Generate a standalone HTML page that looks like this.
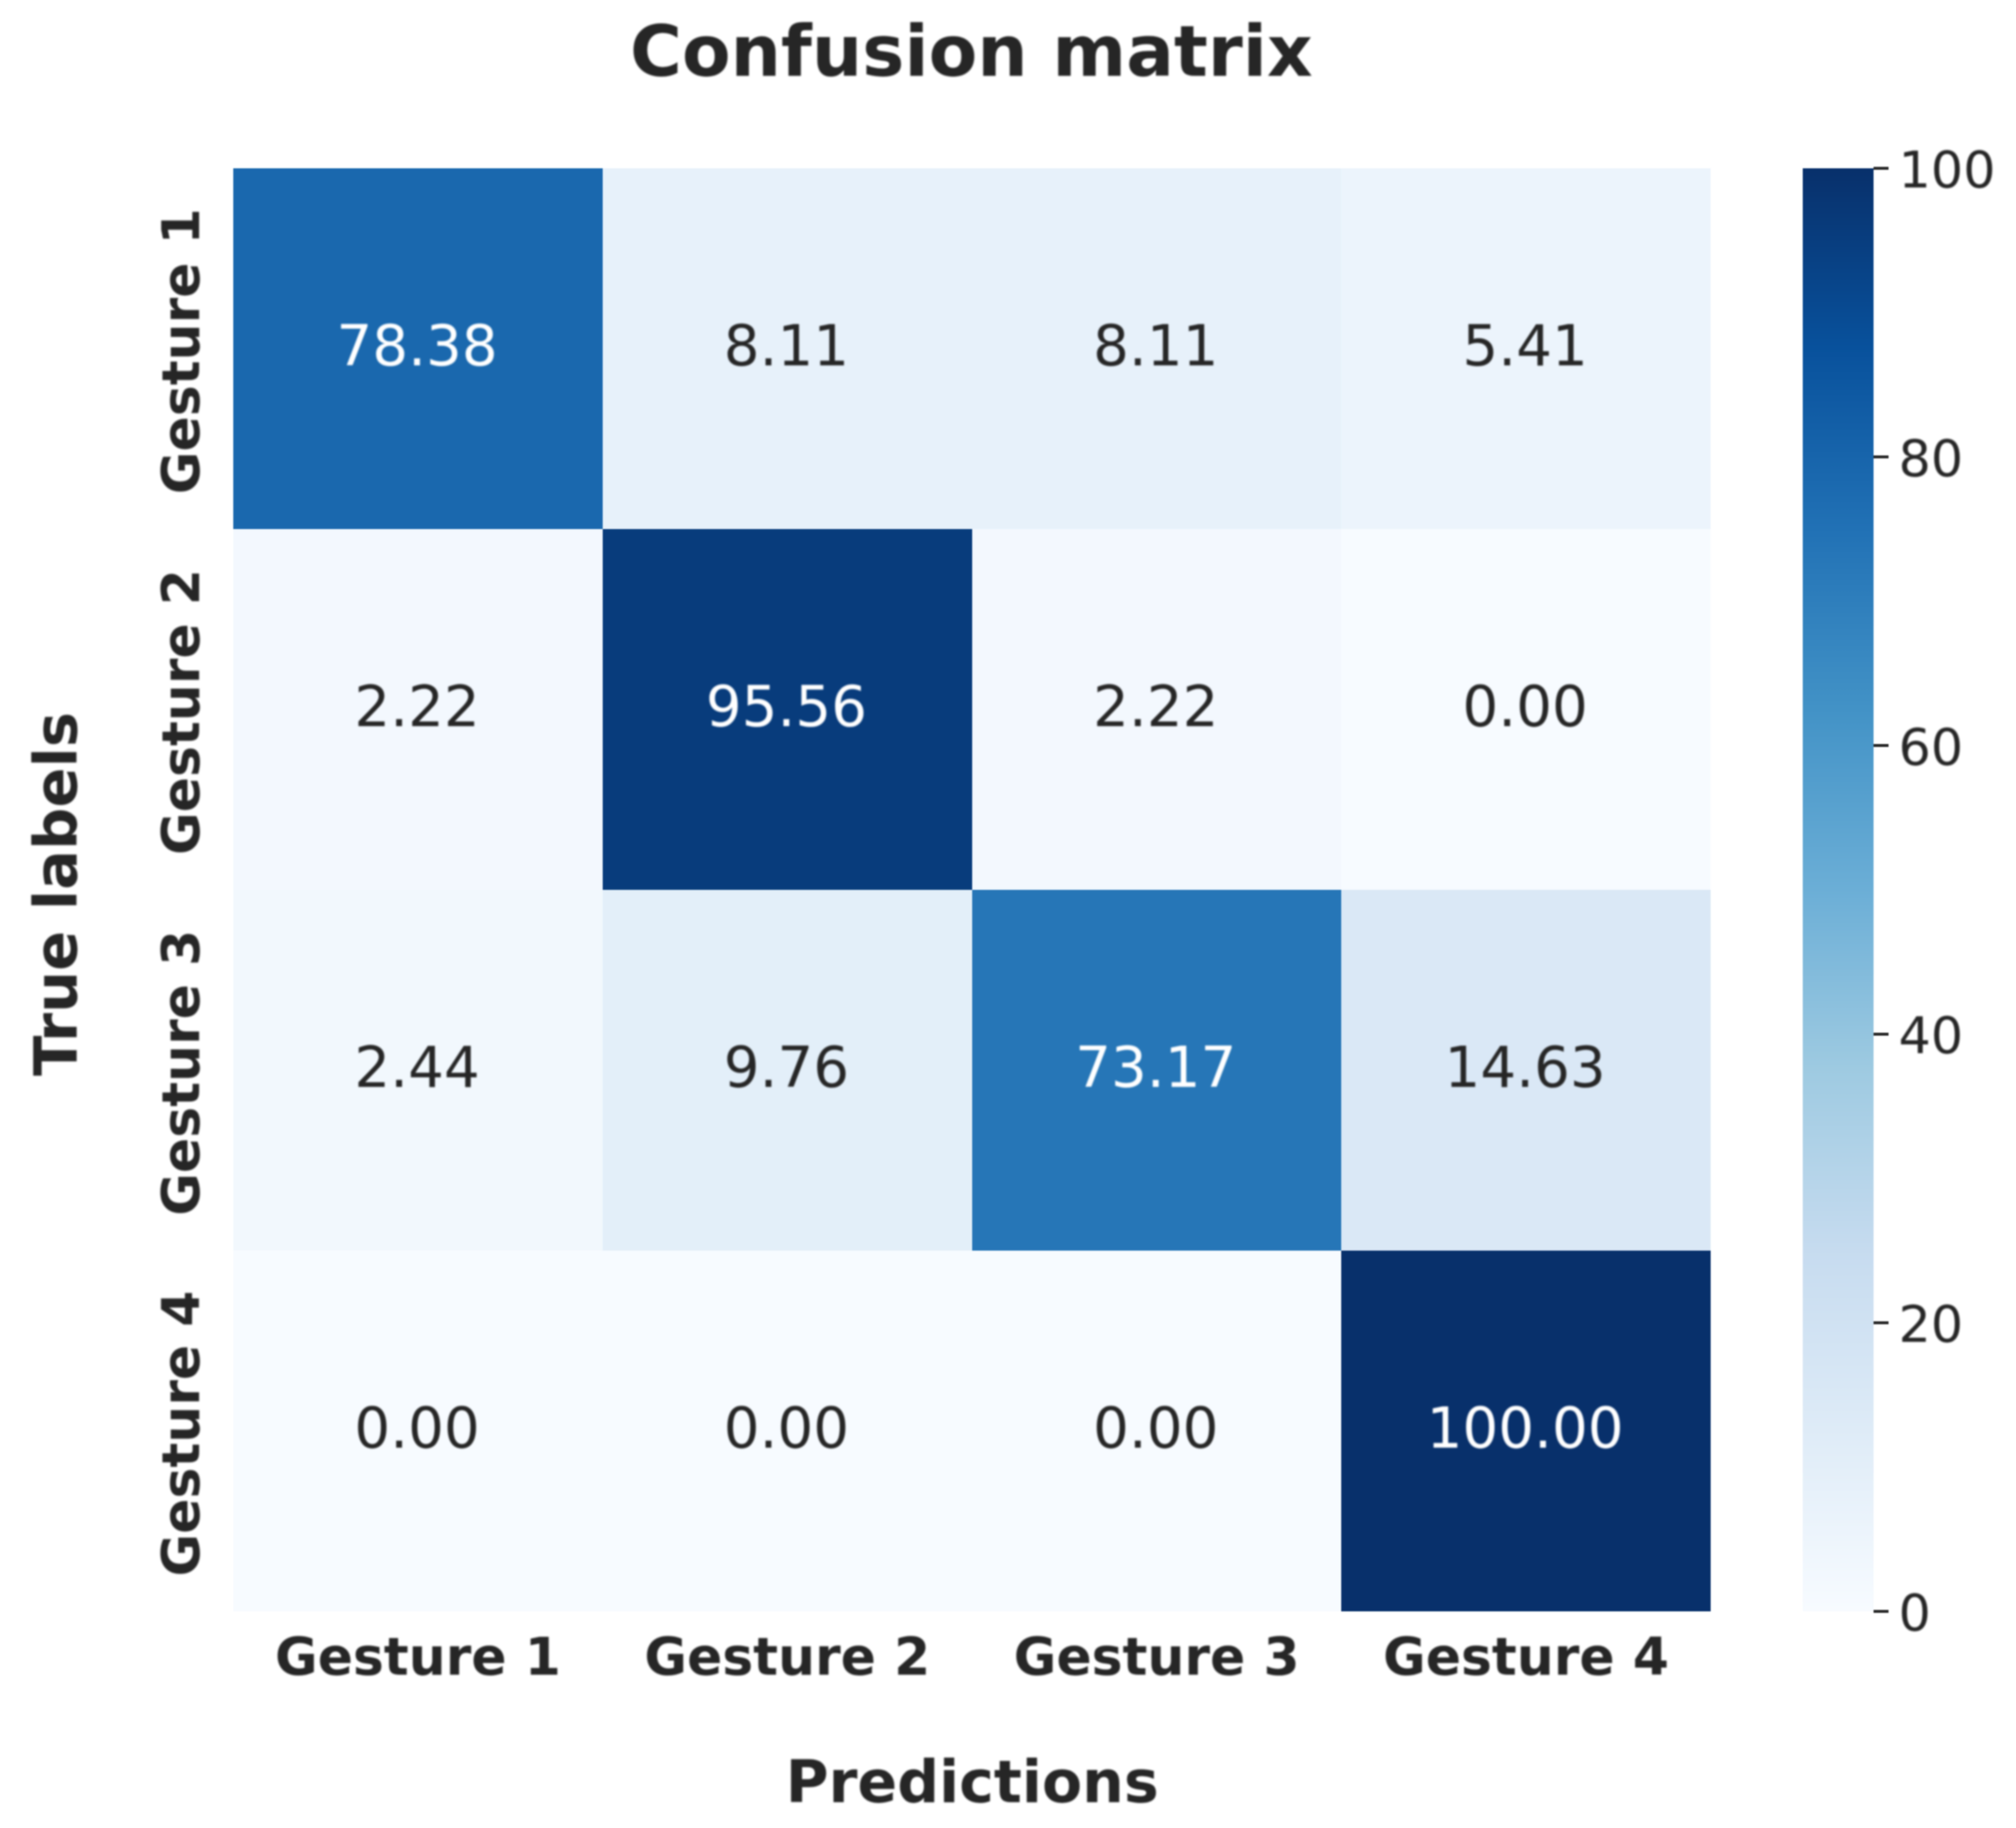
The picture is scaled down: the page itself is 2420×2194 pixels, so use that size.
<!DOCTYPE html>
<html lang="en">
<head>
<meta charset="utf-8">
<title>Confusion matrix</title>
<style>
html,body{margin:0;padding:0;background:#fff;}
svg{display:block;}
text{font-family:"DejaVu Sans","Liberation Sans",sans-serif;fill:#262626;}
.soft{filter:blur(1.1px);}
.edge{filter:blur(0.7px);}
.b{font-weight:700;}
</style>
</head>
<body>
<svg id="chart" xmlns="http://www.w3.org/2000/svg" width="2420" height="2194" viewBox="0 0 2420 2194">
  <rect x="0" y="0" width="2420" height="2194" fill="#ffffff"/>
  <g id="cells" class="edge"></g>
  <g id="colorbar" class="edge"></g>
  <g id="labels" class="soft">
    <text class="b" x="1166" y="91" text-anchor="middle" font-size="85">Confusion matrix</text>
    <text class="b" x="1167" y="2163" text-anchor="middle" font-size="70.3">Predictions</text>
    <text class="b" transform="translate(92 1073) rotate(-90)" text-anchor="middle" font-size="71">True labels</text>
  </g>
</svg>
<script>
const categories = ['Gesture 1', 'Gesture 2', 'Gesture 3', 'Gesture 4'];
const row1Values = [78.38, 8.11, 8.11, 5.41];
const row2Values = [2.22, 95.56, 2.22, 0.00];
const row3Values = [2.44, 9.76, 73.17, 14.63];
const row4Values = [0.00, 0.00, 0.00, 100.00];
const matrixRows = [row1Values, row2Values, row3Values, row4Values];
const colorbarTicks = [0, 20, 40, 60, 80, 100];
const colorDomain = [0, 100];
const blues = ['#f7fbff','#deebf7','#c6dbef','#9ecae1','#6baed6','#4292c6','#2171b5','#08519c','#08306b'];

const NS = 'http://www.w3.org/2000/svg';
const plot = {left: 280, right: 2053.5, top: 202, bottom: 1934};
const bar = {left: 2164, right: 2249, top: 202, bottom: 1934};

function xBand(i) { return plot.left + (plot.right - plot.left) * i / categories.length; }
function yBand(i) { return plot.top + (plot.bottom - plot.top) * i / matrixRows.length; }
function barY(v) { return bar.bottom - (bar.bottom - bar.top) * (v - colorDomain[0]) / (colorDomain[1] - colorDomain[0]); }
function hexToRgb(h) { return [1, 3, 5].map(function (p) { return parseInt(h.substr(p, 2), 16); }); }
function colorOf(v) {
  const t = Math.max(0, Math.min(1, (v - colorDomain[0]) / (colorDomain[1] - colorDomain[0]))) * (blues.length - 1);
  const i = Math.min(blues.length - 2, Math.floor(t));
  const a = hexToRgb(blues[i]);
  const b = hexToRgb(blues[i + 1]);
  const f = t - i;
  return 'rgb(' + a.map(function (c, k) { return Math.round(c + (b[k] - c) * f); }).join(',') + ')';
}
function make(tag, attrs, parent) {
  const el = document.createElementNS(NS, tag);
  Object.keys(attrs).forEach(function (k) { el.setAttribute(k, attrs[k]); });
  parent.appendChild(el);
  return el;
}

const cellsGroup = document.getElementById('cells');
const labelsGroup = document.getElementById('labels');
const barGroup = document.getElementById('colorbar');

matrixRows.forEach(function (row, r) {
  row.forEach(function (v, c) {
    const rect = make('rect', {x: xBand(c), y: yBand(r), width: xBand(c + 1) - xBand(c), height: yBand(r + 1) - yBand(r), fill: colorOf(v), 'shape-rendering': 'crispEdges'}, cellsGroup);
    
    
    const label = make('text', {x: (xBand(c) + xBand(c + 1)) / 2 - 1, y: (yBand(r) + yBand(r + 1)) / 2 + 20, 'text-anchor': 'middle', 'font-size': 67.6}, labelsGroup);
    
    
    label.style.fill = v > 60 ? '#ffffff' : '#262626';
    label.textContent = v.toFixed(2);
  });
});

categories.forEach(function (name, i) {
  const xt = make('text', {x: (xBand(i) + xBand(i + 1)) / 2, y: 2010, 'text-anchor': 'middle', 'font-size': 62.4, class: 'b'}, labelsGroup);
  
  
  xt.textContent = name;
  const yt = make('text', {transform: 'translate(239 ' + ((yBand(i) + yBand(i + 1)) / 2 + 3) + ') rotate(-90)', 'text-anchor': 'middle', 'font-size': 62.4, class: 'b'}, labelsGroup);
  
  
  yt.textContent = name;
});

const defs = make('defs', {}, barGroup);
const grad = make('linearGradient', {id: 'blues-gradient', x1: 0, y1: 1, x2: 0, y2: 0}, defs);
blues.forEach(function (col, i) {
  make('stop', {offset: i / (blues.length - 1), 'stop-color': col}, grad);
});
const barRect = make('rect', {x: bar.left, y: bar.top, width: bar.right - bar.left, height: bar.bottom - bar.top, fill: 'url(#blues-gradient)'}, barGroup);



colorbarTicks.forEach(function (v) {
  const y = barY(v);
  const tick = make('line', {x1: bar.right, x2: bar.right + 18, y1: y, y2: y, stroke: '#262626', 'stroke-width': 3.5}, barGroup);
  
  
  const label = make('text', {x: bar.right + 30, y: y + 23, 'font-size': 61}, labelsGroup);
  
  
  label.textContent = String(v);
});
</script>
</body>
</html>
